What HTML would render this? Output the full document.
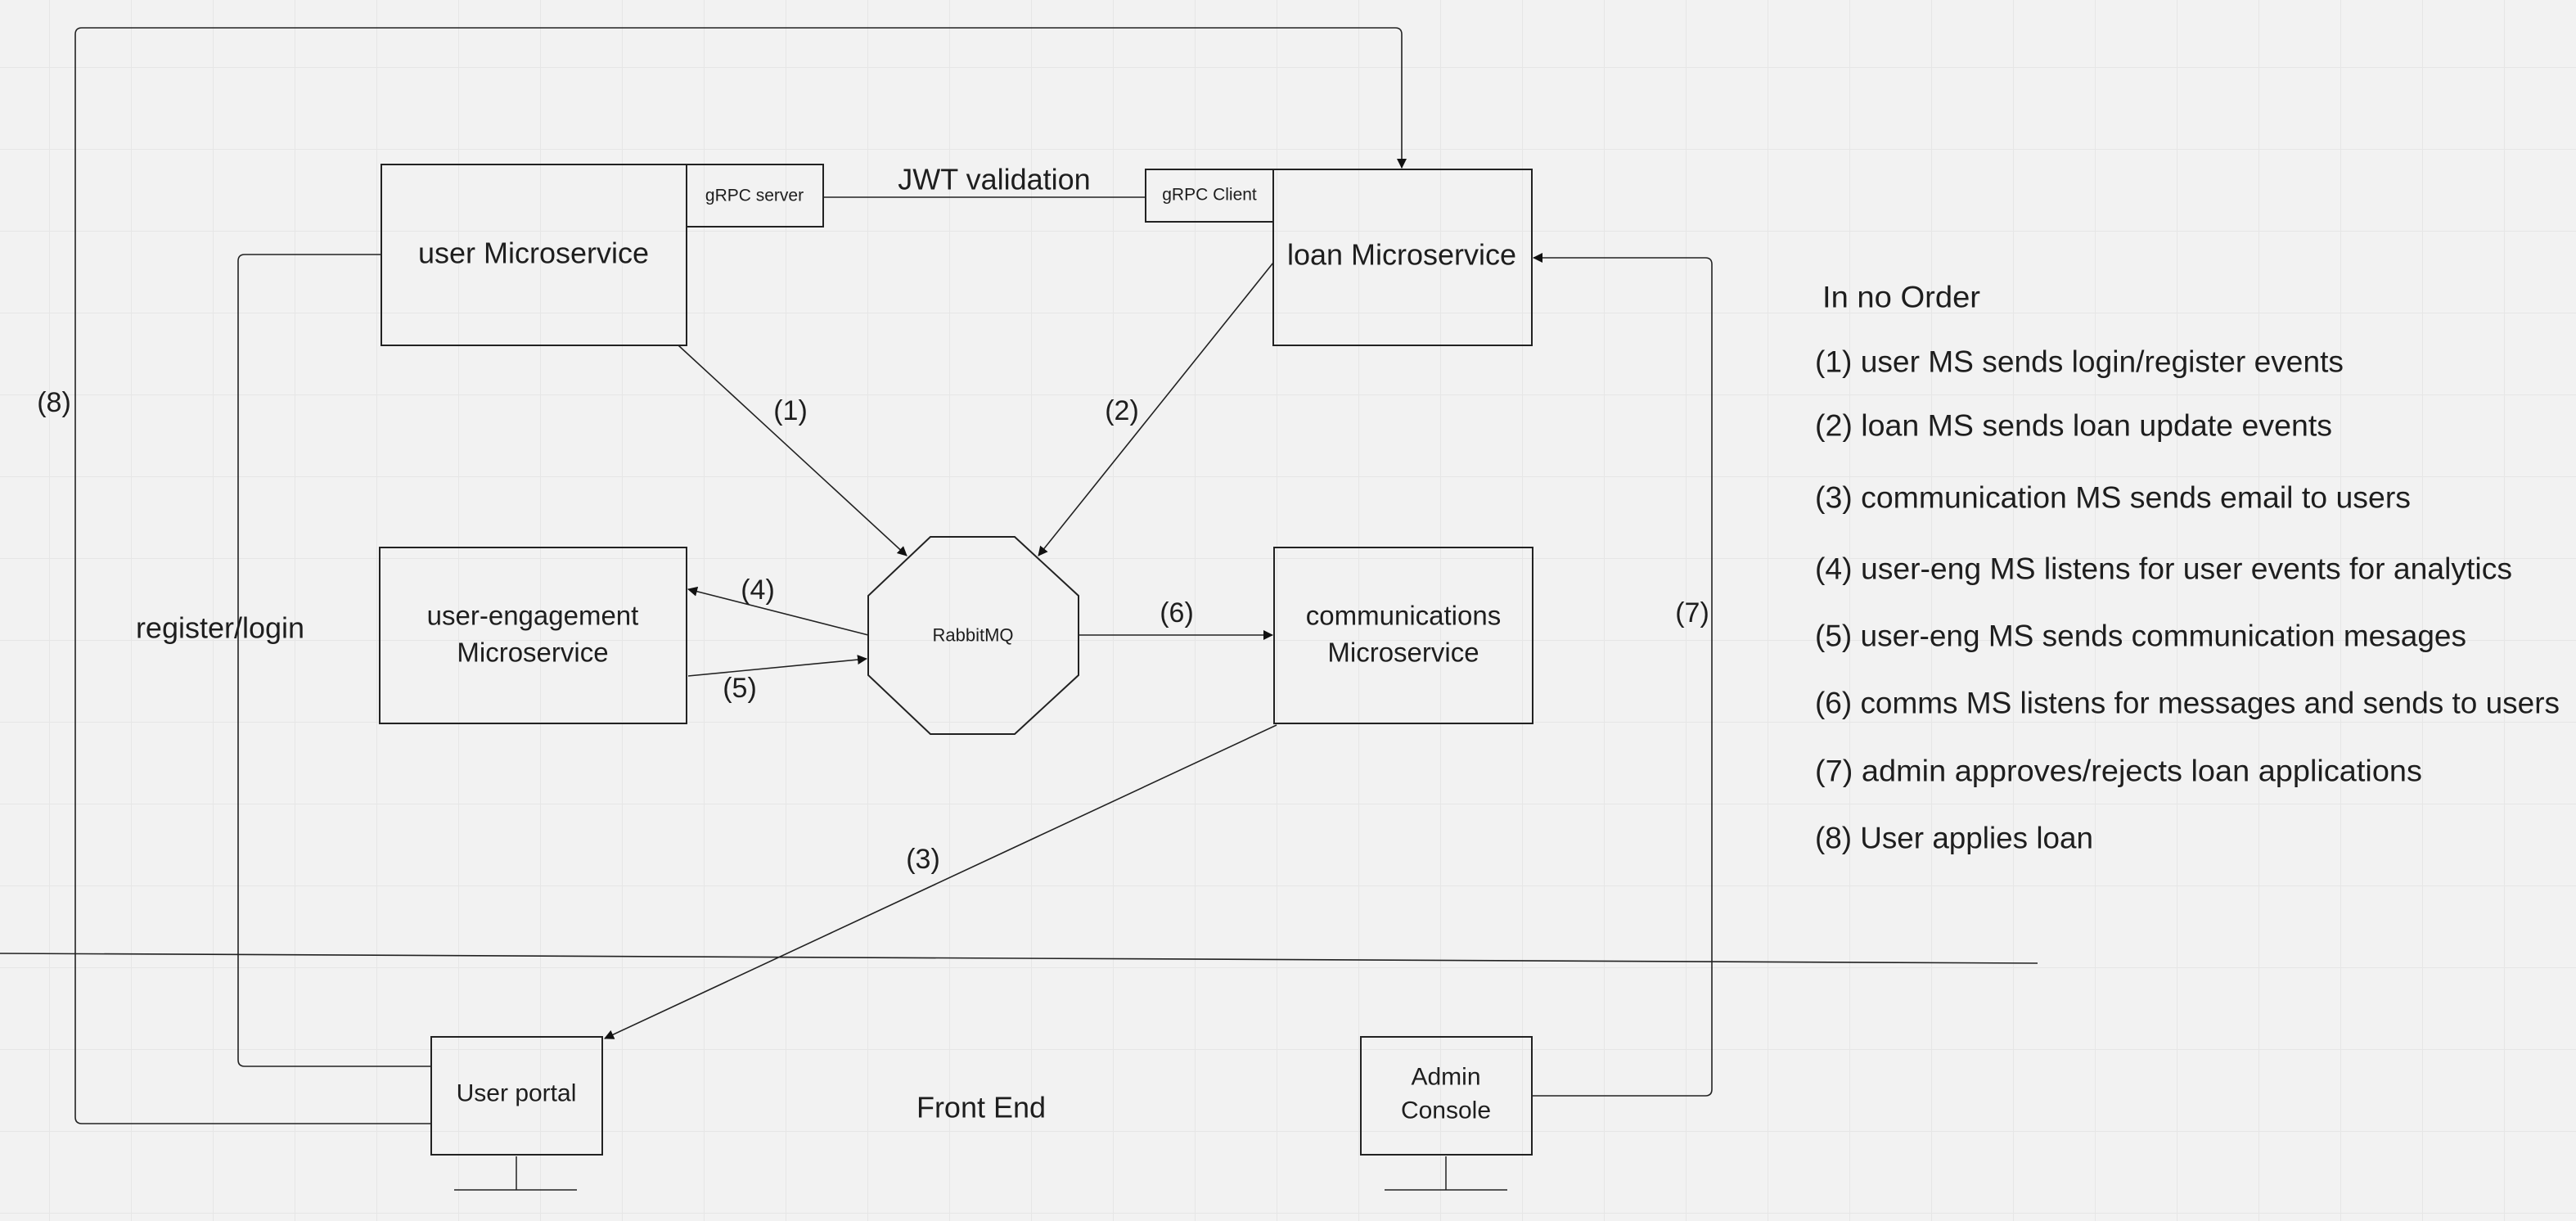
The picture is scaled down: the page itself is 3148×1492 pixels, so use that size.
<!DOCTYPE html>
<html><head><meta charset="utf-8"><style>
html,body{margin:0;padding:0;background:#f2f2f2;}
svg{display:block;}
text{font-family:"Liberation Sans",sans-serif;fill:#1e1e1e;}
</style></head><body>
<svg width="3148" height="1492" viewBox="0 0 3148 1492" xmlns="http://www.w3.org/2000/svg">
<defs>
<pattern id="g" x="60" y="82" width="100" height="100" patternUnits="userSpaceOnUse">
<path d="M0 0H100M0 0V100" stroke="#e6e6e6" stroke-width="2" fill="none"/>
</pattern>
<marker id="a" markerWidth="12" markerHeight="12" refX="11" refY="6" orient="auto" markerUnits="userSpaceOnUse">
<path d="M0 0L12 6L0 12Z" fill="#111"/>
</marker>
</defs>
<rect width="3148" height="1492" fill="#f2f2f2"/>
<rect width="3148" height="1492" fill="url(#g)"/>

<g fill="none" stroke="#222" stroke-width="2">
<!-- boxes -->
<rect x="466" y="201" width="373" height="221"/>
<rect x="839" y="201" width="167" height="76"/>
<rect x="1400" y="207" width="156" height="64"/>
<rect x="1556" y="207" width="316" height="215"/>
<rect x="464" y="669" width="375" height="215"/>
<rect x="1557" y="669" width="316" height="215"/>
<polygon points="1137,656 1240,656 1318,728 1318,825 1240,897 1137,897 1061,825 1061,728"/>
<rect x="527" y="1267" width="209" height="144"/>
<rect x="1663" y="1267" width="209" height="144"/>
<!-- stands -->
<path d="M631 1413V1454M555 1454H705" stroke-width="1.5"/>
<path d="M1767 1413V1454M1692 1454H1842" stroke-width="1.5"/>
</g>

<g fill="none" stroke="#222" stroke-width="1.6">
<path d="M1006 241H1400"/>
<path d="M528 1373H100Q92 1373 92 1365V42Q92 34 100 34H1705Q1713 34 1713 42V205" marker-end="url(#a)"/>
<path d="M466 311H299Q291 311 291 319V1295Q291 1303 299 1303H527"/>
<path d="M1872 1339H2084Q2092 1339 2092 1331V323Q2092 315 2084 315H1874" marker-end="url(#a)"/>
<path d="M829 422L1108 679" marker-end="url(#a)"/>
<path d="M1556 321L1269 679" marker-end="url(#a)"/>
<path d="M1061 776L841 720" marker-end="url(#a)"/>
<path d="M841 826L1059 805" marker-end="url(#a)"/>
<path d="M1318 776H1555" marker-end="url(#a)"/>
<path d="M1560 886L739 1269" marker-end="url(#a)"/>
<path d="M0 1165L2490 1177"/>
</g>

<g text-anchor="middle" dominant-baseline="central">
<text x="652" y="309" font-size="36">user Microservice</text>
<text x="922" y="239" font-size="21">gRPC server</text>
<text x="1478" y="238" font-size="21">gRPC Client</text>
<text x="1215" y="219" font-size="36">JWT validation</text>
<text x="1713" y="311" font-size="36">loan Microservice</text>
<text x="651" y="752" font-size="33">user-engagement</text>
<text x="651" y="797" font-size="33">Microservice</text>
<text x="1715" y="752" font-size="33">communications</text>
<text x="1715" y="797" font-size="33">Microservice</text>
<text x="1189" y="776" font-size="22">RabbitMQ</text>
<text x="631" y="1336" font-size="30">User portal</text>
<text x="1767" y="1316" font-size="30">Admin</text>
<text x="1767" y="1357" font-size="30">Console</text>
<text x="1199" y="1353" font-size="36">Front End</text>
<text x="269" y="767" font-size="36">register/login</text>
<text x="66" y="492" font-size="34">(8)</text>
<text x="966" y="502" font-size="34">(1)</text>
<text x="1371" y="502" font-size="34">(2)</text>
<text x="926" y="721" font-size="34">(4)</text>
<text x="904" y="841" font-size="34">(5)</text>
<text x="1438" y="749" font-size="34">(6)</text>
<text x="1128" y="1050" font-size="34">(3)</text>
<text x="2068" y="749" font-size="34">(7)</text>
</g>

<g dominant-baseline="central" font-size="37">
<text x="2227" y="363" textLength="193" lengthAdjust="spacingAndGlyphs">In no Order</text>
<text x="2218" y="442" textLength="646" lengthAdjust="spacingAndGlyphs">(1) user MS sends login/register events</text>
<text x="2218" y="520" textLength="632" lengthAdjust="spacingAndGlyphs">(2) loan MS sends  loan update events</text>
<text x="2218" y="608" textLength="728" lengthAdjust="spacingAndGlyphs">(3) communication MS sends email to users</text>
<text x="2218" y="695" textLength="852" lengthAdjust="spacingAndGlyphs">(4) user-eng MS listens for user events for analytics</text>
<text x="2218" y="777" textLength="796" lengthAdjust="spacingAndGlyphs">(5) user-eng MS sends communication mesages</text>
<text x="2218" y="859" textLength="910" lengthAdjust="spacingAndGlyphs">(6) comms MS listens for messages and sends to users</text>
<text x="2218" y="942" textLength="742" lengthAdjust="spacingAndGlyphs">(7) admin approves/rejects loan applications</text>
<text x="2218" y="1024" textLength="340" lengthAdjust="spacingAndGlyphs">(8) User applies loan</text>
</g>
</svg>
</body></html>
